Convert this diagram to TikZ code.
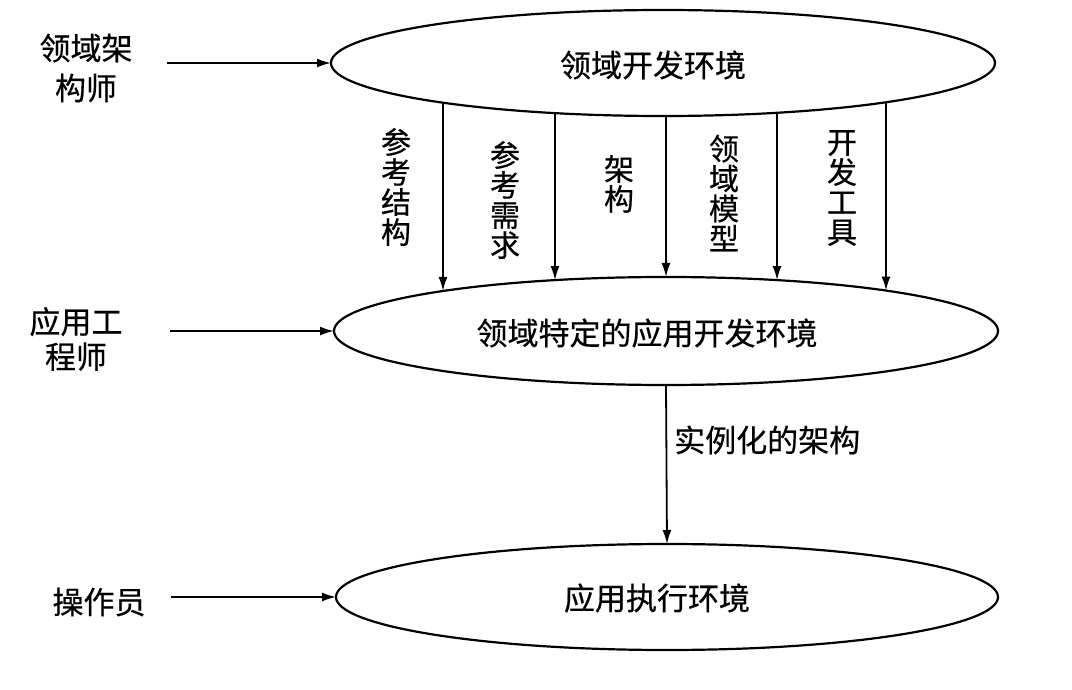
\documentclass[tikz,border=0pt]{standalone}
\usepackage{fontspec}
\setmainfont{Noto Sans CJK SC}[FakeBold=0.5]
\usetikzlibrary{shapes.geometric,arrows.meta,intersections}
\begin{document}
\begin{tikzpicture}[x=1pt,y=-1pt,
  env/.style={ellipse, draw, line width=2.2pt, inner sep=0pt, outer sep=0pt},
  txt/.style={inner sep=0pt, font=\fontsize{31}{31}\selectfont},
  vtxt/.style={inner sep=0pt, align=center, font=\fontsize{30}{30}\selectfont},
  arr/.style={line width=1.8pt, -{Latex[length=14pt,width=9pt]}}]
\useasboundingbox[fill=white] (0,0) rectangle (1072,690);

% environments
\node[env, minimum width=664pt, minimum height=106pt] (eTop) at (663,63) {};
\node[env, minimum width=664pt, minimum height=108pt] (eMid) at (666,331) {};
\node[env, minimum width=662pt, minimum height=106pt] (eBot) at (667,597) {};
\path[name path=pTop] (eTop.center) ellipse [x radius=332pt, y radius=53pt];
\path[name path=pMid] (eMid.center) ellipse [x radius=332pt, y radius=54pt];

\node[txt] (tTop) at (653,65) {领域开发环境};
\node[txt] (tMid) at (647,333) {领域特定的应用开发环境};
\node[txt] (tBot) at (657,598) {应用执行环境};

% actors
\node[txt, align=center, font=\fontsize{31}{40}\selectfont] (lA) at (86,68) {领域架\\构师};
\node[txt, align=center, font=\fontsize{31}{35}\selectfont] (lB) at (76,339) {应用工\\程师};
\node[txt] (lC) at (99,602) {操作员};

\coordinate (sA) at (167,63);
\coordinate (sB) at (170,331);
\coordinate (sC) at (171,597);
\draw[arr] (sA) -- (eTop.west);
\draw[arr] (sB) -- (eMid.west);
\draw[arr] (sC) -- (eBot.west);

% products of the domain development environment
\path[name path=vA] (443,40) -- (443,340);
\path[name path=vB] (555,40) -- (555,340);
\path[name path=vC] (666,40) -- (666,340);
\path[name path=vD] (777,40) -- (777,340);
\path[name path=vE] (886,40) -- (886,340);
\path[name intersections={of=vA and pTop, by=s1}];
\path[name intersections={of=vB and pTop, by=s2}];
\path[name intersections={of=vC and pTop, by=s3}];
\path[name intersections={of=vD and pTop, by=s4}];
\path[name intersections={of=vE and pTop, by=s5}];
\path[name intersections={of=vA and pMid, by=e1}];
\path[name intersections={of=vB and pMid, by=e2}];
\path[name intersections={of=vC and pMid, by=e3}];
\path[name intersections={of=vD and pMid, by=e4}];
\path[name intersections={of=vE and pMid, by=e5}];
\draw[arr] (s1) -- (e1);
\draw[arr] (s2) -- (e2);
\draw[arr] (s3) -- (e3);
\draw[arr] (s4) -- (e4);
\draw[arr] (s5) -- (e5);

\node[vtxt] (v1t) at (396,187) {参\\考\\结\\构};
\node[vtxt] (v2t) at (505,200) {参\\考\\需\\求};
\node[vtxt] (v3t) at (619,184) {架\\构};
\node[vtxt] (v4t) at (724,193) {领\\域\\模\\型};
\node[vtxt] (v5t) at (842,188) {开\\发\\工\\具};

% instantiation
\draw[arr] (eMid.south) -- (eBot.north);
\node[txt, anchor=west] (inst) at (674,440) {实例化的架构};
\end{tikzpicture}
\end{document}
